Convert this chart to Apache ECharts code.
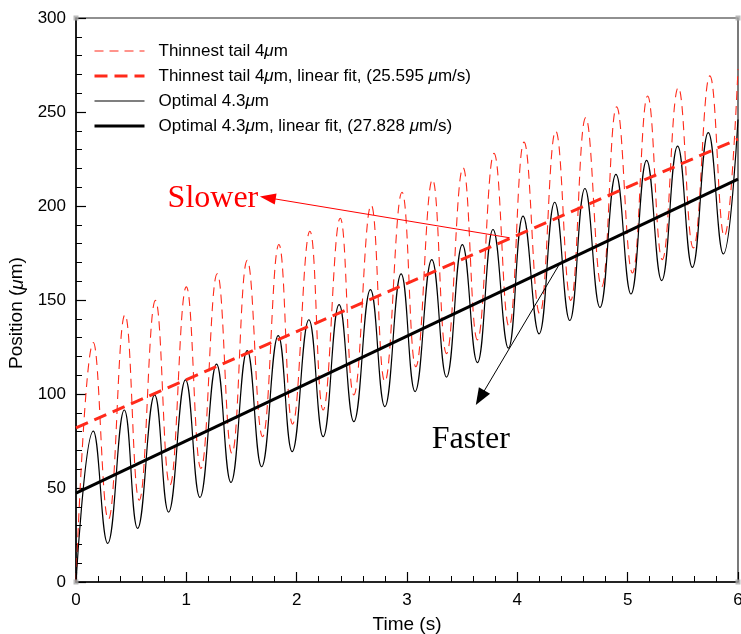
<!DOCTYPE html>
<html><head><meta charset="utf-8">
<script src="https://cdn.jsdelivr.net/npm/echarts@6/dist/echarts.min.js"></script>
<style>html,body{margin:0;padding:0;background:#fff}#c{width:741px;height:634px}</style>
</head><body><div id="c"></div>
<script>
// ---- data ----
const xTickLabels = ['0','1','2','3','4','5','6'];
const yTickLabels = ['0','50','100','150','200','250','300'];

const seriesNames = [
  'Thinnest tail 4μm',
  'Thinnest tail 4μm, linear fit, (25.595 μm/s)',
  'Optimal 4.3μm',
  'Optimal 4.3μm, linear fit, (27.828 μm/s)'
];

// Thinnest tail 4um: times (s) of start, extrema, end
const thinTime = [0,
  0.157,0.293,0.444,0.573,0.720,0.851,1.000,1.132,1.280,1.413,1.552,1.691,1.839,1.963,2.120,2.240,
  2.395,2.518,2.675,2.799,2.955,3.080,3.231,3.358,3.508,3.638,3.789,3.925,4.061,4.203,4.348,4.484,
  4.620,4.764,4.900,5.043,5.181,5.314,5.459,5.595,5.745,5.876,6.0];
const thinPos = [0,
  127.4,33.3,142.2,43.5,149.8,51.5,157.0,60.4,164.0,68.4,171.1,77.3,179.5,84.0,186.6,91.5,
  193.5,99.5,200.5,106.6,207.3,114.5,214.1,121.5,220.4,128.8,228.0,135.9,234.0,142.7,239.9,149.8,
  247.0,157.0,252.7,164.4,258.5,171.5,263.0,177.7,269.2,183.9,272.8];

// Optimal 4.3um
const optTime = [0,
  0.157,0.287,0.438,0.558,0.713,0.839,0.993,1.123,1.274,1.404,1.552,1.682,1.833,1.959,2.111,2.240,
  2.385,2.518,2.669,2.799,2.947,3.073,3.225,3.358,3.502,3.638,3.780,3.919,4.052,4.197,4.339,4.475,
  4.613,4.749,4.894,5.030,5.172,5.308,5.453,5.586,5.731,5.867,6.0];
const optPos = [0,
  80.3,20.5,91.5,28.5,99.5,37.2,107.5,45.0,115.9,53.0,123.1,61.3,131.1,69.3,139.5,77.3,
  147.5,85.3,155.5,93.3,163.9,101.3,171.5,109.0,179.5,116.7,187.5,124.4,194.6,132.0,202.0,139.1,
  209.3,146.0,216.8,153.2,224.3,160.3,231.9,167.4,239.0,174.5,246.0];

// Linear fits (end points at t = 0 and t = 6)
const fitTime = [0, 6];
const thinFit = [82.0, 235.6];
const optFit = [47.3, 214.3];

// Annotations (data coordinates; arrow ends are the arrowhead centres)
const slowerArrow = [[3.93, 183.1], [1.738, 204.4]];
const fasterArrow = [[4.384, 169.3], [3.663, 98.0]];
const slowerText = [1.241, 203.9];
const fasterText = [3.578, 76.0];
const corners = [[0,0],[0,300],[6,300],[6,0]];

// ---- chart ----
const zip = (xs, ys) => xs.map((x, i) => [x, ys[i]]);
const SANS = 'Liberation Sans';
const SERIF = 'Liberation Serif';
const RED = '#ff2a1a';

const chart = echarts.init(document.getElementById('c'), null, {renderer: 'canvas'});
chart.setOption({
  animation: false,
  backgroundColor: '#fff',
  grid: {left: 76, right: 3, top: 18, bottom: 52, containLabel: false, outerBoundsMode: 'none',
    show: true, borderColor: '#222', borderWidth: 1.2, backgroundColor: 'transparent'},
  legend: {
    data: seriesNames,
    orient: 'vertical', left: 93, top: 41, padding: 0,
    itemWidth: 50, itemHeight: 14, itemGap: 5,
    itemStyle: {color: 'rgba(0,0,0,0)', borderWidth: 0, opacity: 0},
    lineStyle: {width: 'inherit'},
    formatter: n => n.replace(/μ/g, '{i|μ}'),
    textStyle: {fontFamily: SANS, fontSize: 17, color: '#000', lineHeight: 20, padding: [0, 0, 0, 9],
      rich: {i: {fontFamily: SANS, fontSize: 17, fontStyle: 'italic', color: '#000', lineHeight: 20}}}
  },
  xAxis: {
    type: 'value', min: 0, max: 6, interval: 1,
    name: 'Time (s)', nameLocation: 'middle', nameGap: 33,
    nameTextStyle: {fontFamily: SANS, fontSize: 19, color: '#000'},
    axisLine: {lineStyle: {color: '#000', width: 1.5}},
    axisTick: {inside: true, length: 10, lineStyle: {color: '#000', width: 1.2}},
    minorTick: {show: true, splitNumber: 5, length: 6, lineStyle: {color: '#000', width: 1}},
    splitLine: {show: false},
    axisLabel: {fontFamily: SANS, fontSize: 17, color: '#000', margin: 10,
      formatter: v => xTickLabels[Math.round(v)]}
  },
  yAxis: {
    type: 'value', min: 0, max: 300, interval: 50,
    name: 'Position ({i|μ}m)', nameLocation: 'middle', nameGap: 38, nameRotate: 90,
    nameTextStyle: {fontFamily: SANS, fontSize: 19, color: '#000', padding: [0, 26, 0, 0],
      rich: {i: {fontFamily: SANS, fontSize: 19, fontStyle: 'italic', color: '#000'}}},
    axisLine: {lineStyle: {color: '#000', width: 1.5}},
    axisTick: {inside: true, length: 10, lineStyle: {color: '#000', width: 1.2}},
    minorTick: {show: true, splitNumber: 5, length: 6, lineStyle: {color: '#000', width: 1}},
    splitLine: {show: false},
    axisLabel: {fontFamily: SANS, fontSize: 17, color: '#000', margin: 10,
      formatter: v => yTickLabels[Math.round(v / 50)]}
  },
  series: [
    {name: seriesNames[0], type: 'line', data: zip(thinTime, thinPos), symbol: 'none', smooth: 0.45,
      lineStyle: {color: RED, width: 1.1, type: [9, 6]}, itemStyle: {color: RED}, z: 2},
    {name: seriesNames[1], type: 'line', data: zip(fitTime, thinFit), symbol: 'none',
      lineStyle: {color: RED, width: 3, type: [13, 7]}, itemStyle: {color: RED}, z: 4,
      markLine: {silent: true, symbol: ['none', 'triangle'], symbolSize: [11, 16],
        lineStyle: {color: '#ff0000', width: 1, type: 'solid'}, label: {show: false},
        data: [[{coord: slowerArrow[0]}, {coord: slowerArrow[1]}]]},
      markPoint: {silent: true, symbol: 'circle', symbolSize: 1, itemStyle: {color: 'rgba(0,0,0,0)'},
        label: {show: true, position: 'inside', formatter: 'Slower', fontFamily: SERIF, fontSize: 32, color: '#ff0000'},
        data: [{coord: slowerText}]}},
    {name: seriesNames[2], type: 'line', data: zip(optTime, optPos), symbol: 'none', smooth: 0.45,
      lineStyle: {color: '#000', width: 1.2, type: 'solid'}, itemStyle: {color: '#000'}, z: 3},
    {name: seriesNames[3], type: 'line', data: zip(fitTime, optFit), symbol: 'none',
      lineStyle: {color: '#000', width: 3, type: 'solid'}, itemStyle: {color: '#000'}, z: 5,
      markLine: {silent: true, symbol: ['none', 'triangle'], symbolSize: [13, 17],
        lineStyle: {color: '#000', width: 1, type: 'solid'}, label: {show: false},
        data: [[{coord: fasterArrow[0]}, {coord: fasterArrow[1]}]]},
      markPoint: {silent: true, symbol: 'circle', symbolSize: 1, itemStyle: {color: 'rgba(0,0,0,0)'},
        label: {show: true, position: 'inside', formatter: 'Faster', fontFamily: SERIF, fontSize: 32, color: '#000'},
        data: [{coord: fasterText}]}},
    {name: 'corners', type: 'scatter', data: corners, symbol: 'rect', symbolSize: 5,
      itemStyle: {color: '#aaaaaa'}, z: 10, silent: true, clip: false}
  ]
});
</script>
</body></html>
